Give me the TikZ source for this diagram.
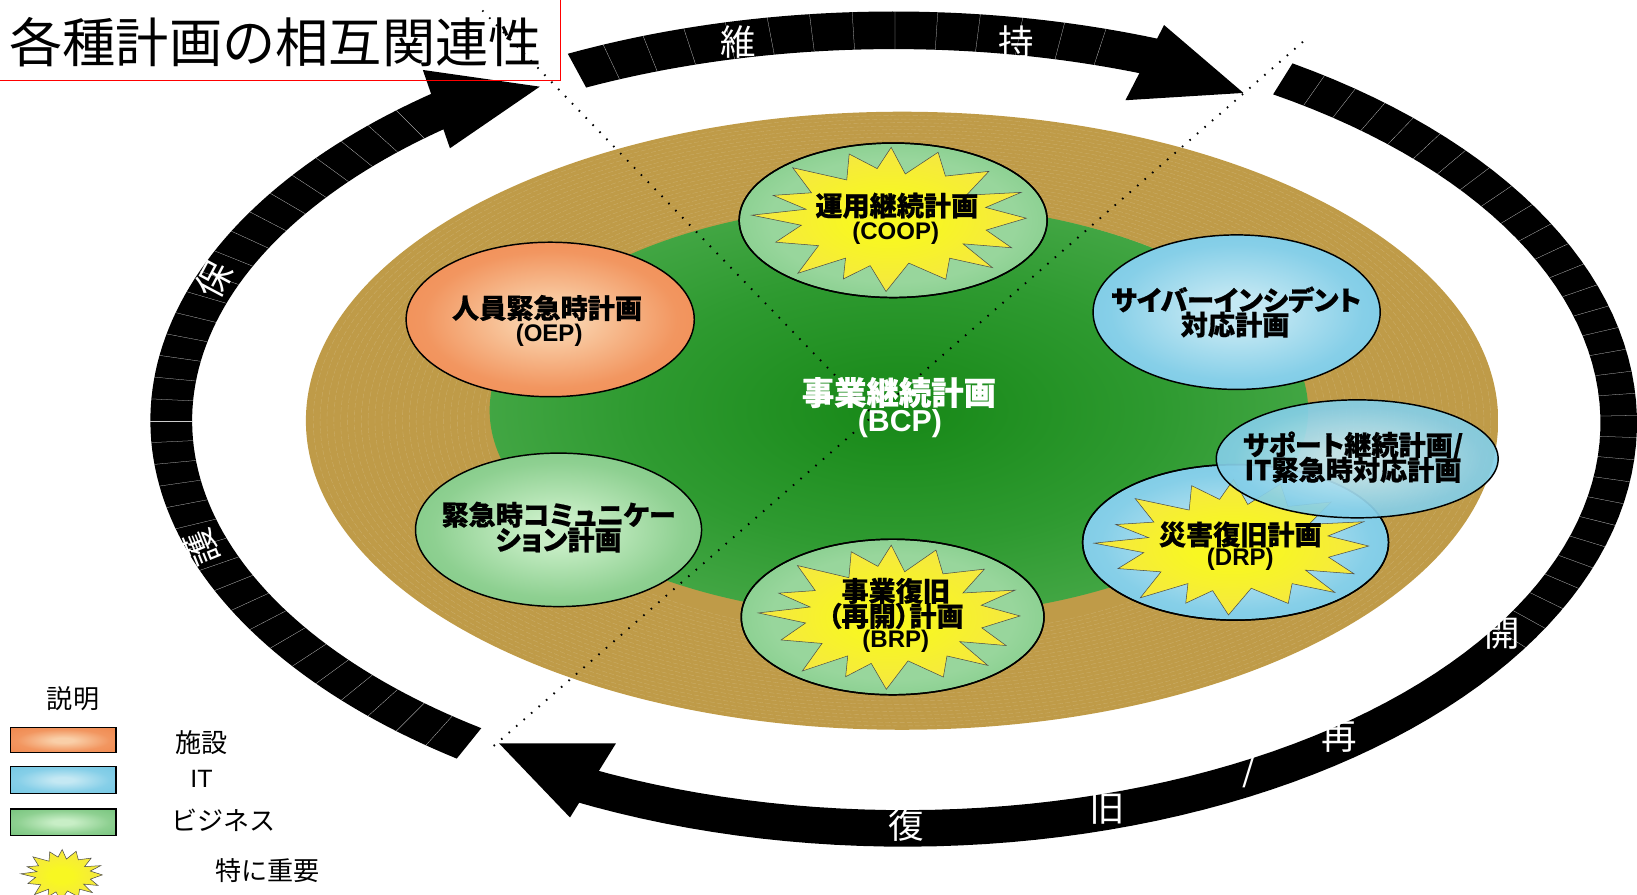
\documentclass[tikz,border=0pt]{standalone}
\usepackage{fontspec}
\setmainfont{Liberation Sans}
\newfontfamily\jp{Noto Sans CJK JP}
\newfontfamily\jpp{Noto Sans CJK JP}[RawFeature=+palt]

\definecolor{goldA}{HTML}{BF9B48}
\definecolor{goldB}{HTML}{A2843C}
\definecolor{bcpA}{HTML}{178817}
\definecolor{bcpB}{HTML}{2E9A30}
\definecolor{bcpC}{HTML}{78C678}
\definecolor{orA}{HTML}{F9CFA8}
\definecolor{orM}{HTML}{F29660}
\definecolor{orB}{HTML}{EE7A3C}
\definecolor{blA}{HTML}{C4E8F3}
\definecolor{blM}{HTML}{86CFE8}
\definecolor{blB}{HTML}{62C0DE}
\definecolor{grA}{HTML}{C8EEC6}
\definecolor{grM}{HTML}{8ED091}
\definecolor{grB}{HTML}{60B86A}
\definecolor{gsA}{HTML}{98D69C}
\definecolor{gsB}{HTML}{56B764}
\definecolor{stA}{HTML}{F8F722}
\definecolor{stB}{HTML}{F0D16E}

\pgfdeclareradialshading{goldsh}{\pgfpoint{0bp}{0bp}}{color(0bp)=(goldA); color(34bp)=(goldA); color(50bp)=(goldB)}
\pgfdeclareradialshading{bcpsh}{\pgfpoint{0bp}{0bp}}{color(0bp)=(bcpA); color(16bp)=(bcpB); color(50bp)=(bcpC)}
\pgfdeclareradialshading{orsh}{\pgfpoint{0bp}{0bp}}{color(0bp)=(orA); color(5bp)=(orA); color(22bp)=(orM); color(50bp)=(orB)}
\pgfdeclareradialshading{blsh}{\pgfpoint{0bp}{0bp}}{color(0bp)=(blA); color(5bp)=(blA); color(22bp)=(blM); color(50bp)=(blB)}
\pgfdeclareradialshading{grsh}{\pgfpoint{0bp}{0bp}}{color(0bp)=(grA); color(5bp)=(grA); color(22bp)=(grM); color(50bp)=(grB)}
\pgfdeclareradialshading{gssh}{\pgfpoint{0bp}{0bp}}{color(0bp)=(gsA); color(20bp)=(gsA); color(50bp)=(gsB)}
\pgfdeclareradialshading{stsh}{\pgfpoint{0bp}{0bp}}{color(0bp)=(stA); color(7bp)=(stA); color(50bp)=(stB)}

\newcommand\band[8]{%
  \fill[black] plot[domain=#7:#8, samples=90] ({#1+#3*cos(\x)},{#2+#4*sin(\x)})
    -- plot[domain=#8:#7, samples=90] ({#1+#5*cos(\x)},{#2+#6*sin(\x)}) -- cycle;
}
\newcommand\segs[7]{%
  \foreach \t in {#7} \draw[seg] ({#1+#5*cos(\t)},{#2+#6*sin(\t)}) -- ({#1+#3*cos(\t)},{#2+#4*sin(\t)});
}
\newcommand\burst[4]{%
  \shadedraw[shading=stsh, draw=black!70, line width=0.5pt]
    plot[samples at={0,1,...,31}, variable=\k]
    ({#1+#3*((mod(\k,2)==0)?1:0.68)*(1+0.06*sin(\k*97))*cos(\k*11.25+3*sin(\k*53))},
     {#2+#4*((mod(\k,2)==0)?1:0.68)*(1+0.06*sin(\k*97))*sin(\k*11.25+3*sin(\k*53))})
    -- cycle;
}

\tikzset{
  ptxt/.style={font=\jpp\bfseries\addfontfeature{FakeBold=0.6}\fontsize{26}{26}\selectfont, text=black, inner sep=0pt},
  ltxt/.style={font=\bfseries\fontsize{23}{23}\selectfont, text=black, inner sep=0pt},
  ringtxt/.style={font=\jp\fontsize{34}{34}\selectfont, text=white, inner sep=0pt},
  legtxt/.style={font=\jp\fontsize{25}{25}\selectfont, text=black, inner sep=0pt},
  seg/.style={gray!40, line width=0.25pt},
  dots/.style={black, line width=1.8pt, dash pattern=on 1.5pt off 8pt},
  oval/.style={draw=black, line width=1.4pt},
  legbox/.style={draw=black, line width=1.2pt},
}

\begin{document}
\begin{tikzpicture}[x=1pt,y=-1pt]
\useasboundingbox (0,0) rectangle (1568,857);
\begin{scope}
\clip (0,0) rectangle (1568,857);

% golden disc with concentric texture
\shade[shading=goldsh] (864,403) ellipse [x radius=571, y radius=296];
\foreach \i in {0,...,25}
  \draw[white, opacity=.18, line width=.35pt, dash pattern=on 5pt off 2pt]
    (864,403) ellipse [x radius={571*(0.70+0.0115*\i)}, y radius={296*(0.70+0.0115*\i)}];
% BCP green
\shade[shading=bcpsh] (861,393) ellipse [x radius=392, y radius=198];

% ring: maintain (top)
\band{856}{411}{712}{400}{672}{364}{-116}{-68}
\segs{856}{411}{712}{400}{672}{364}{-113,-109.7,...,-72}
\fill[black] (1115,24) -- (1191,89) -- (1078,96) -- cycle;
% ring: protect (left)
\band{856}{403}{712}{400}{672}{364}{126}{232}
\segs{856}{403}{712}{400}{672}{364}{129,132,...,229}
\fill[black] (405,67) -- (517,83) -- (431,142) -- cycle;
% ring: restart / recovery (right + bottom)
\band{866}{405}{702}{406}{667}{371}{-58}{117}
\segs{866}{405}{702}{406}{667}{371}{-55,-52,...,32}
\fill[black] (590,712) -- (478,712) -- (546,783) -- cycle;

% dotted dividers
\coordinate (d1s) at (462,10);
\coordinate (ctr) at (837,398);
\coordinate (d2s) at (1248,40);
\coordinate (d2e) at (470,717);
\draw[dots] (d1s) -- (ctr);
\draw[dots] (d2s) -- (d2e);

% OEP
\shadedraw[shading=orsh, oval] (527,306) ellipse [x radius=138, y radius=74];
% communication
\shadedraw[shading=grsh, oval] (535,507.5) ellipse [x radius=137, y radius=73.5];
% cyber
\shadedraw[shading=blsh, oval] (1184.5,299) ellipse [x radius=137.5, y radius=74];
% COOP
\shadedraw[shading=gssh, oval] (855.5,211) ellipse [x radius=147.5, y radius=74];
\begin{scope}
  \clip (855.5,211) ellipse [x radius=147.5, y radius=74];
  \burst{855}{209}{128}{67}
\end{scope}
\draw[oval] (855.5,211) ellipse [x radius=147.5, y radius=74];
% BRP
\shadedraw[shading=gssh, oval] (855,591) ellipse [x radius=145, y radius=74.5];
\begin{scope}
  \clip (855,591) ellipse [x radius=145, y radius=74.5];
  \burst{855}{590}{122}{67}
\end{scope}
\draw[oval] (855,591) ellipse [x radius=145, y radius=74.5];
% DRP
\shadedraw[shading=blsh, oval] (1183.5,519.5) ellipse [x radius=146.5, y radius=74.5];
\begin{scope}
  \clip (1183.5,519.5) ellipse [x radius=146.5, y radius=74.5];
  \burst{1183}{523}{128}{63}
\end{scope}
\draw[oval] (1183.5,519.5) ellipse [x radius=146.5, y radius=74.5];
% support (semi-transparent, over DRP)
\shadedraw[shading=blsh, oval, fill opacity=0.92] (1300,439.5) ellipse [x radius=135, y radius=56.5];

% texts in ovals
\node[ptxt] (coop1) at (859,197) {運用継続計画};
\node[ltxt] (coop2) at (858,223) {(COOP)};
\node[ptxt] (oep1) at (524,295) {人員緊急時計画};
\node[ltxt] (oep2) at (526,321) {(OEP)};
\node[ptxt] (com1) at (535,493) {緊急時コミュニケー};
\node[ptxt] (com2) at (535,517) {ション計画};
\node[ptxt] (cyb1) at (1184,287) {サイバーインシデント};
\node[ptxt] (cyb2) at (1183,311) {対応計画};
\node[ptxt] (sup1) at (1296,427) {サポート継続計画/};
\node[ptxt] (sup2) at (1296,450) {IT緊急時対応計画};
\node[ptxt] (drp1) at (1188,512) {災害復旧計画};
\node[ltxt] (drp2) at (1188,536) {(DRP)};
\node[ptxt] (brp1) at (858,566) {事業復旧};
\node[ptxt] (brp2) at (858,590) {（再開）計画};
\node[ltxt] (brp3) at (858,614) {(BRP)};
\node[font=\jpp\bfseries\addfontfeature{FakeBold=0.6}\fontsize{31}{31}\selectfont, text=white, inner sep=0pt] (bcp1) at (861,376) {事業継続計画};
\node[font=\bfseries\fontsize{29}{29}\selectfont, text=white, inner sep=0pt] (bcp2) at (862,406) {(BCP)};

% ring labels
\node[ringtxt] (r1) at (707,40) {維};
\node[ringtxt] (r2) at (973,40) {持};
\node[ringtxt, rotate=62] (r3) at (205,268) {保};
\node[ringtxt, rotate=112] (r4) at (193,525) {護};
\node[ringtxt] (r5) at (1439,607) {開};
\node[ringtxt] (r6) at (1283,706) {再};
\node[ringtxt] (r7) at (1197,738) {/};
\node[ringtxt] (r8) at (1061,775) {旧};
\node[ringtxt] (r9) at (868,790) {復};

% title
\draw[red, line width=1.4pt] (-5,-5) rectangle (537,77);
\node[font=\jp\fontsize{51}{51}\selectfont, inner sep=0pt] (title) at (264,40) {各種計画の相互関連性};

% legend
\node[legtxt] (lg0) at (70,669) {説明};
\fill[orB] (10,697) rectangle (111,721);
\shade[shading=orsh] (10,697) rectangle (111,721);
\draw[legbox] (10,697) rectangle (111,721);
\fill[blB] (10,734) rectangle (111,760);
\shade[shading=blsh] (10,734) rectangle (111,760);
\draw[legbox] (10,734) rectangle (111,760);
\fill[grB] (10,775) rectangle (111,800);
\shade[shading=grsh] (10,775) rectangle (111,800);
\draw[legbox] (10,775) rectangle (111,800);
\burst{60}{838}{38}{24}
\node[legtxt] (lg1) at (193,711) {施設};
\node[font=\fontsize{24}{24}\selectfont, inner sep=0pt] (lg2) at (193,746) {IT};
\node[legtxt] (lg3) at (214,786) {ビジネス};
\node[legtxt] (lg4) at (256,834) {特に重要};
\end{scope}
\end{tikzpicture}
\end{document}
